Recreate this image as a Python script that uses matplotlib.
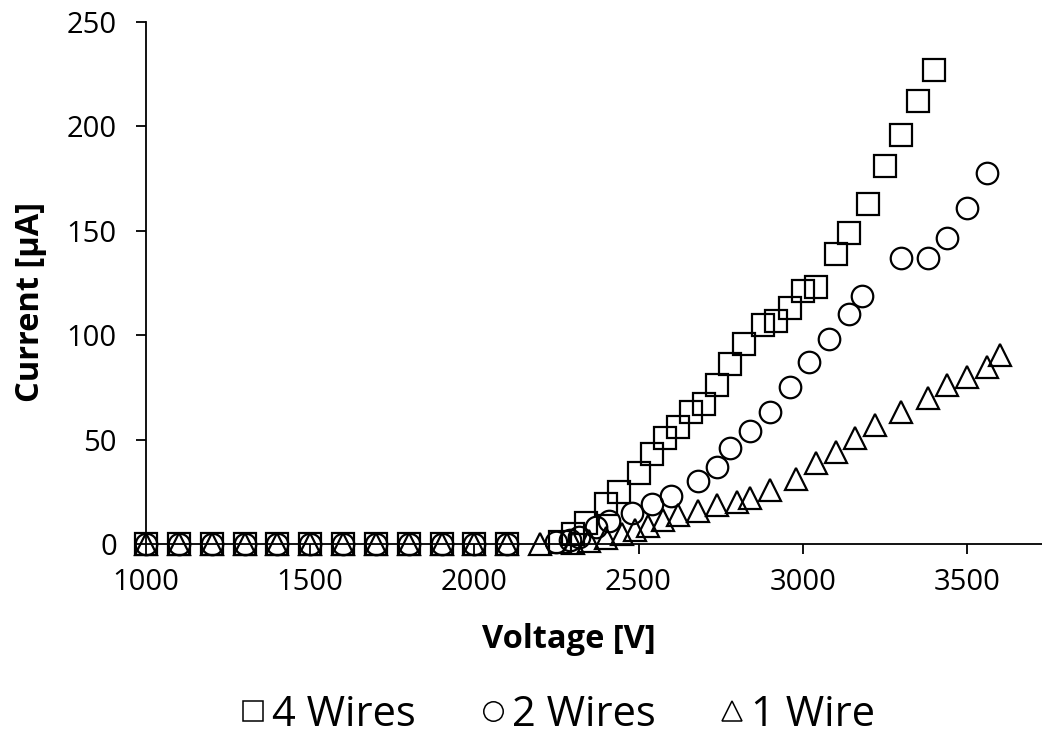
import matplotlib
matplotlib.use("Agg")
import matplotlib.pyplot as plt
from matplotlib.lines import Line2D

plt.rcParams['font.family'] = ['Open Sans', 'DejaVu Sans']

# Four-wire detector
volt_4w = [1000, 1100, 1200, 1300, 1400, 1500, 1600, 1700, 1800, 1900, 2000, 2100,
           2260, 2300, 2340, 2400, 2440, 2500, 2540, 2580, 2620, 2660, 2700, 2740,
           2780, 2820, 2880, 2920, 2960, 3000, 3040, 3100, 3140, 3200, 3250, 3300,
           3350, 3400]
curr_4w = [0, 0, 0, 0, 0, 0, 0, 0, 0, 0, 0, 0,
           1, 5, 10, 19, 25, 34, 43, 51, 56, 63, 67, 76,
           86, 96, 105, 107, 113, 121, 123, 139, 149, 163, 181, 196,
           212, 227]

# Two-wire detector
volt_2w = [1000, 1100, 1200, 1300, 1400, 1500, 1600, 1700, 1800, 1900, 2000, 2100,
           2250, 2290, 2320, 2370, 2410, 2480, 2540, 2600, 2680, 2740, 2780, 2840,
           2900, 2960, 3020, 3080, 3140, 3180, 3300, 3380, 3440, 3500, 3560]
curr_2w = [0, 0, 0, 0, 0, 0, 0, 0, 0, 0, 0, 0,
           1, 2, 3.5, 8, 11, 15, 19, 23, 30, 37, 46, 54,
           63, 75, 87, 98, 110, 119, 137, 137, 146.5, 161, 177.5]

# Single-wire detector
volt_1w = [1000, 1100, 1200, 1300, 1400, 1500, 1600, 1700, 1800, 1900, 2000, 2100, 2200,
           2300, 2350, 2400, 2450, 2490, 2530, 2575, 2620, 2680, 2740, 2800, 2840,
           2900, 2980, 3040, 3100, 3160, 3220, 3300, 3380, 3440, 3500, 3560, 3600]
curr_1w = [0, 0, 0, 0, 0, 0, 0, 0, 0, 0, 0, 0, 0,
           0.5, 1.5, 3, 5, 6.5, 8.5, 11.5, 14, 16, 18.7, 20, 22,
           26, 31, 39, 44, 51, 57, 63, 70, 76, 80, 85, 90.5]

series_names = ['4 Wires', '2 Wires', '1 Wire']
series_markers = ['s', 'o', '^']

W, H = 1042, 736
fig = plt.figure(figsize=(W / 100, H / 100), dpi=100)
ax = fig.add_axes([146 / W, 1 - 544 / H, (1049 - 146) / W, (544 - 22) / H])

style = dict(linestyle='none', mfc='none', mec='black', ms=15.5, mew=1.6, clip_on=False)
for (v, c), mk in zip([(volt_4w, curr_4w), (volt_2w, curr_2w), (volt_1w, curr_1w)],
                      series_markers):
    ax.plot(v, c, marker=mk, **style)

ax.set_xlim(1000, 3750)
ax.set_ylim(0, 250)
ax.set_xticks([1000, 1500, 2000, 2500, 3000, 3500])
ax.set_yticks([0, 50, 100, 150, 200, 250])

for side in ('top', 'right'):
    ax.spines[side].set_visible(False)
for side in ('left', 'bottom'):
    ax.spines[side].set_linewidth(1.3)
    ax.spines[side].set_color('black')
ax.tick_params(axis='both', direction='out', length=7, width=1.3, labelsize=21,
               colors='black')
ax.tick_params(axis='x', pad=10)
ax.tick_params(axis='y', pad=14)

ax.set_xlabel('Voltage [V]', fontsize=23.5, fontweight='bold', va='center')
ax.set_ylabel('Current [μA]', fontsize=23.5, fontweight='bold', va='center')
ax.xaxis.set_label_coords((569 - 146) / (1049 - 146), (544 - 640) / 522)
ax.yaxis.set_label_coords((30 - 146) / (1049 - 146), (544 - 302) / 522)

handles = [Line2D([], [], linestyle='none', marker=mk, mfc='none', mec='black',
                  ms=14, mew=1.1) for mk in series_markers]
fig.legend(handles, series_names, loc='center', bbox_to_anchor=(559 / W, 1 - 715 / H),
           ncol=3, frameon=False, fontsize=30, handlelength=0.5, handletextpad=0.2,
           columnspacing=1.6)

fig.savefig('out.png', dpi=100, facecolor='white')
